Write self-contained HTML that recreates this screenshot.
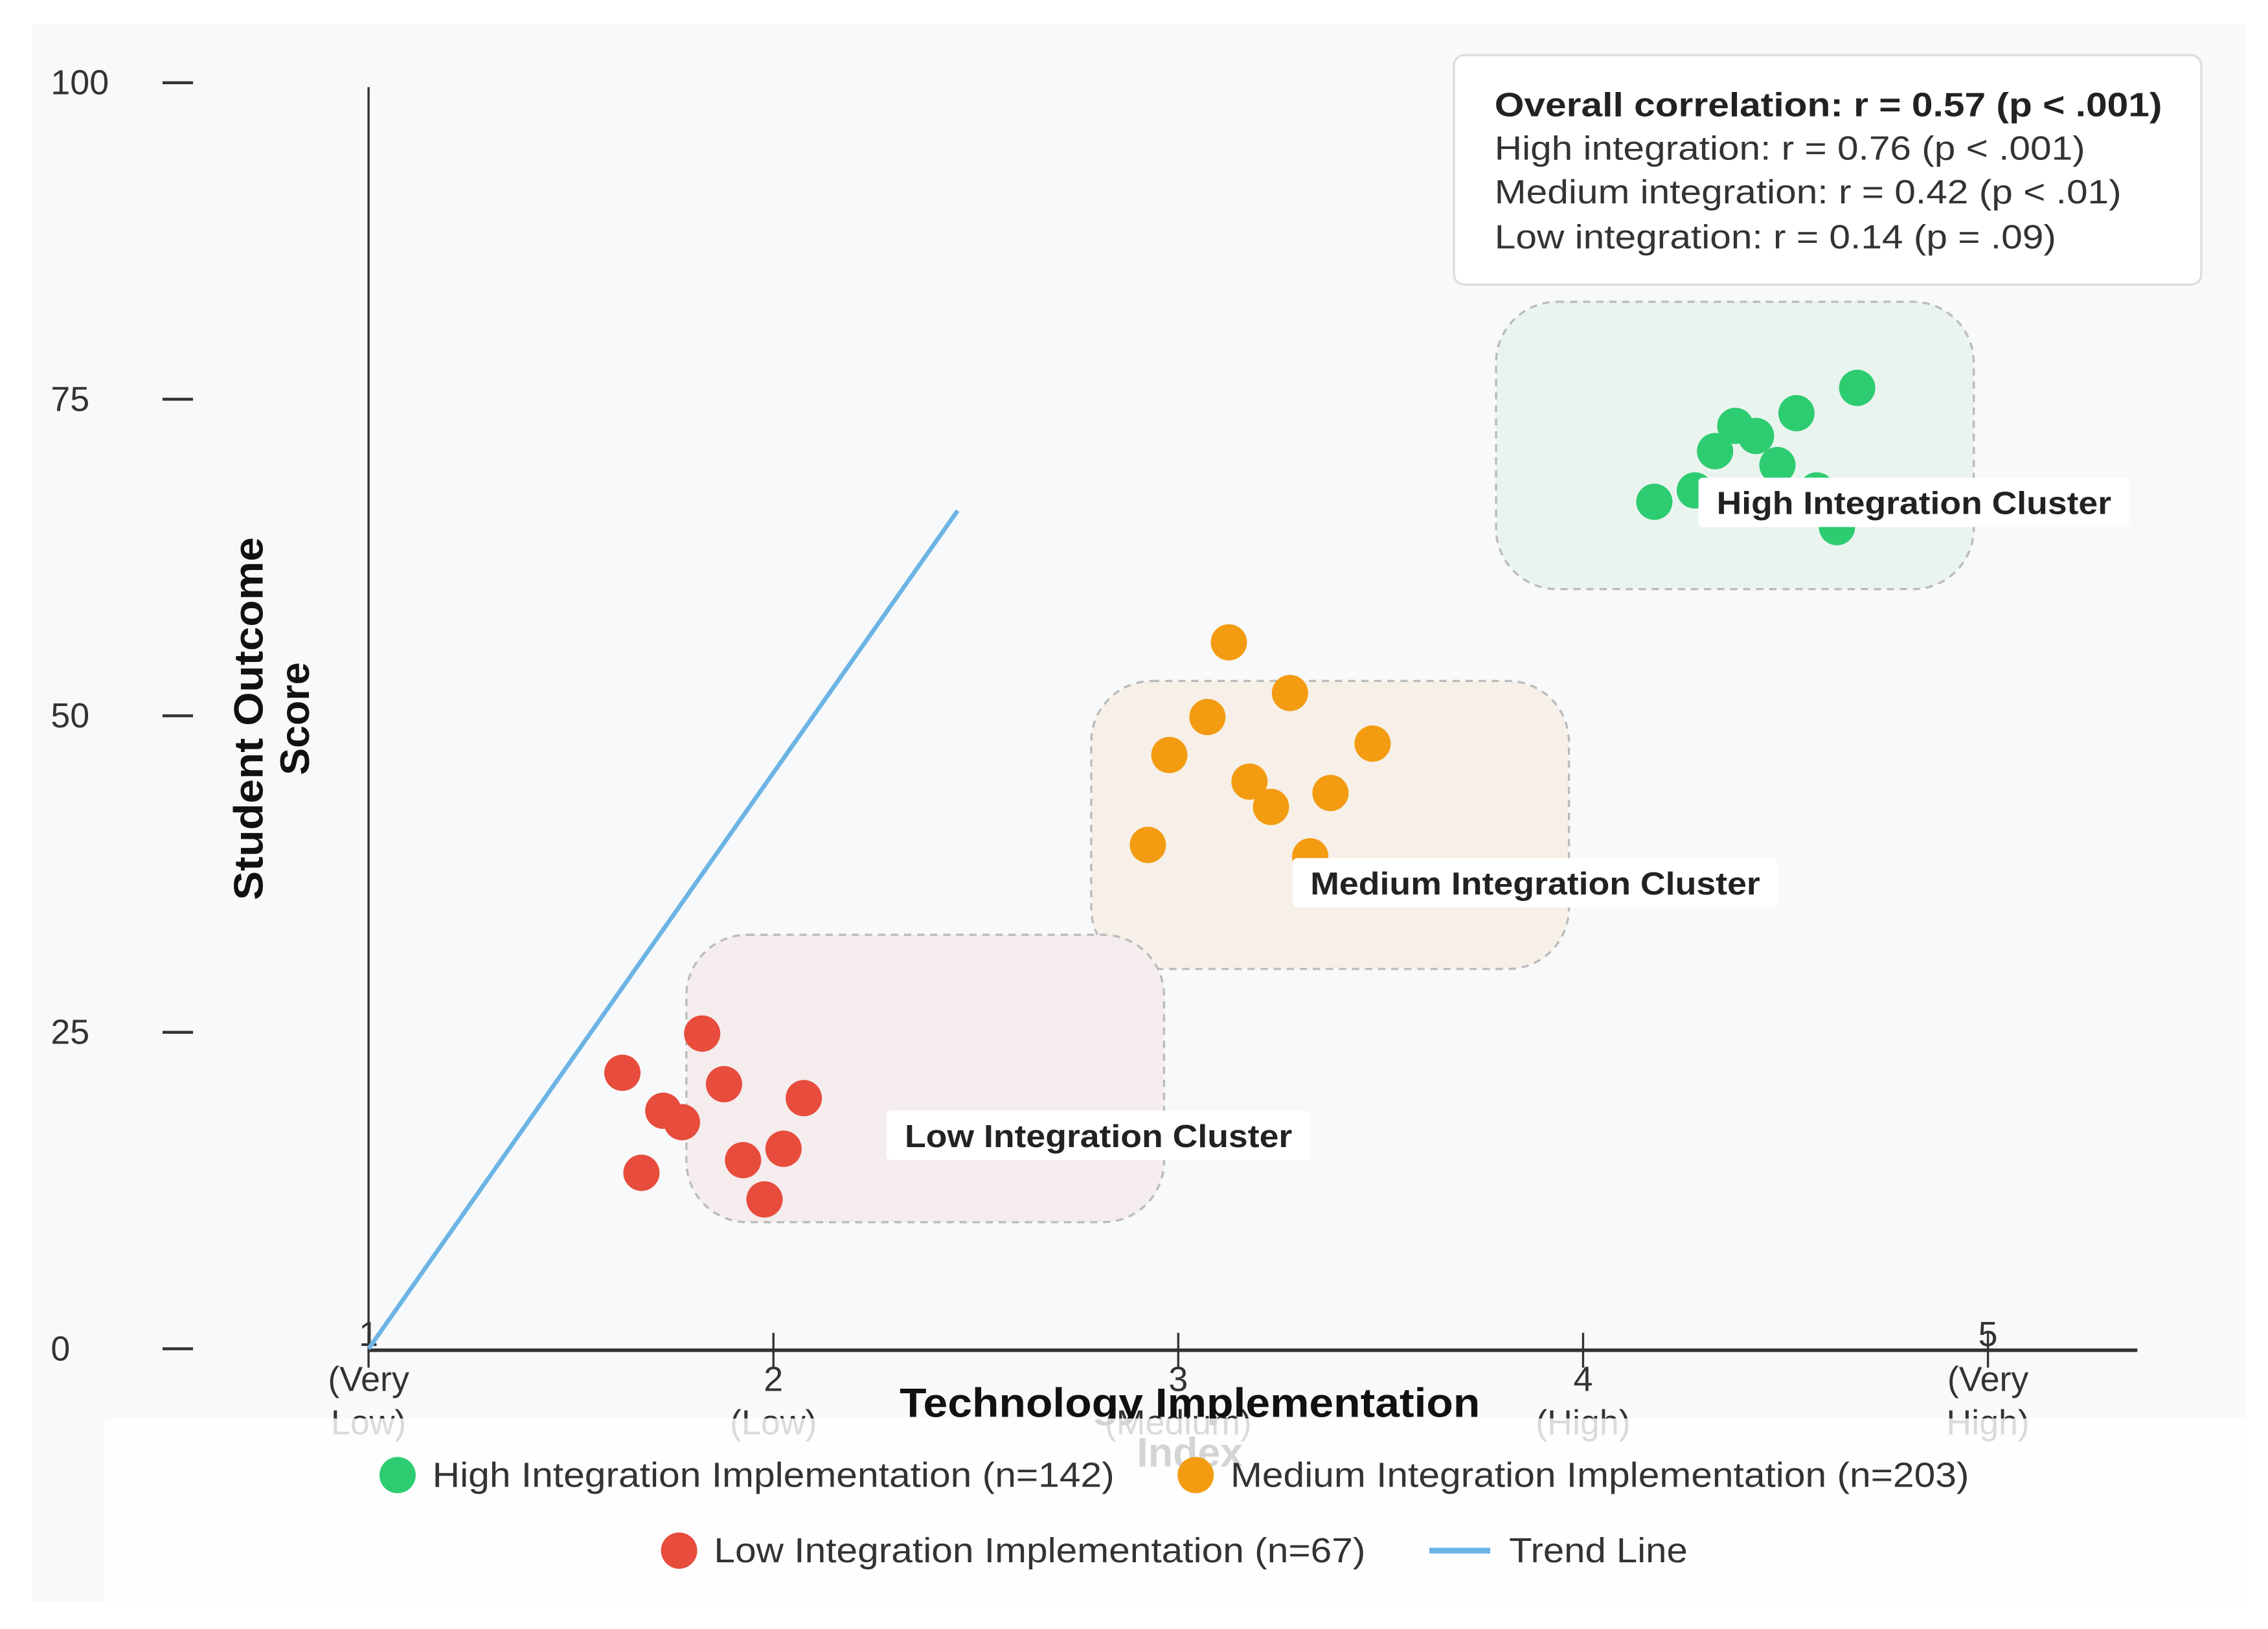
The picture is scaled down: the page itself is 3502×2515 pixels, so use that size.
<!DOCTYPE html>
<html><head><meta charset="utf-8"><style>
html,body{margin:0;padding:0;background:#fff}
svg{display:block}
text{font-family:"Liberation Sans",sans-serif}
</style></head><body>
<svg id="chart" width="3502" height="2515" viewBox="0 0 1563 1122" preserveAspectRatio="none" xmlns="http://www.w3.org/2000/svg">
<rect x="22" y="17" width="1526" height="1087" fill="#f8f9fb"/>
<g id="clusters"></g>
<g id="axes"></g>
<g id="trend"></g>
<g id="points"></g>
<g id="labels"></g>
<g>
<rect x="1002" y="38" width="515" height="158" rx="7" fill="#fff" stroke="#dddddd" stroke-width="1.5"/>
<text x="1030" y="80" font-size="23" font-weight="bold" fill="#222" textLength="460" lengthAdjust="spacingAndGlyphs">Overall correlation: r = 0.57 (p &lt; .001)</text>
<text x="1030" y="110" font-size="23" fill="#333" textLength="407" lengthAdjust="spacingAndGlyphs">High integration: r = 0.76 (p &lt; .001)</text>
<text x="1030" y="140" font-size="23" fill="#333" textLength="432" lengthAdjust="spacingAndGlyphs">Medium integration: r = 0.42 (p &lt; .01)</text>
<text x="1030" y="171" font-size="23" fill="#333" textLength="387" lengthAdjust="spacingAndGlyphs">Low integration: r = 0.14 (p = .09)</text>
</g>
<g id="legend">
<rect x="72" y="977" width="1476" height="127" fill="#ffffff" fill-opacity="0.82"/>
<g><circle cx="274" cy="1016" r="12.5" fill="#2ecc71"/><text x="298" y="1024" font-size="24" fill="#333" textLength="470" lengthAdjust="spacingAndGlyphs">High Integration Implementation (n=142)</text></g>
<g><circle cx="824" cy="1016" r="12.5" fill="#f39c12"/><text x="848" y="1024" font-size="24" fill="#333" textLength="509" lengthAdjust="spacingAndGlyphs">Medium Integration Implementation (n=203)</text></g>
<g><circle cx="468" cy="1068" r="12.5" fill="#e74c3c"/><text x="492" y="1076" font-size="24" fill="#333" textLength="449" lengthAdjust="spacingAndGlyphs">Low Integration Implementation (n=67)</text></g>
<g><line x1="985" y1="1068" x2="1027" y2="1068" stroke="#6cb4e4" stroke-width="4"/><text x="1040" y="1076" font-size="24" fill="#333" textLength="123" lengthAdjust="spacingAndGlyphs">Trend Line</text></g>
</g>
</svg>
<script>
const highX=[4.176,4.276,4.326,4.376,4.427,4.48,4.527,4.577,4.627,4.677];
const highY=[66.9,67.8,70.9,72.9,72.1,69.8,73.9,67.8,64.9,75.9];
const medX=[2.925,2.978,3.072,3.125,3.176,3.229,3.276,3.326,3.376,3.48];
const medY=[39.8,46.9,49.9,55.8,44.8,42.8,51.8,38.9,43.9,47.8];
const lowX=[1.627,1.674,1.728,1.774,1.824,1.878,1.925,1.978,2.025,2.075];
const lowY=[21.8,13.9,18.8,17.9,24.9,20.9,14.9,11.8,15.8,19.8];
const trendX=[1,2.455];
const trendY=[0,66.2];
const yTicks=[0,25,50,75,100];
const xTicks=[1,2,3,4,5];
const xTickNames=["(Very Low)","(Low)","(Medium)","(High)","(Very High)"];
const clusterNames=["High Integration Cluster","Medium Integration Cluster","Low Integration Cluster"];
const clusterX0=[3.785,2.785,1.785];
const clusterX1=[4.965,3.965,2.965];
const clusterY0=[60.0,30.0,10.0];
const clusterY1=[82.7,52.75,32.7];

const NS="http://www.w3.org/2000/svg";
const sx=v=>254+(v-1)*279;
const sy=v=>929-v*8.72;
function mk(tag,attrs,parent,txt){const e=document.createElementNS(NS,tag);for(const k in attrs)e.setAttribute(k,attrs[k]);if(txt!==undefined)e.textContent=txt;parent.appendChild(e);return e;}

const cl=document.getElementById('clusters');
const fills=["#eaf4ef","#f6f0e8","#f5eced"];
const lab=document.getElementById('labels');
for(let i=0;i<3;i++){
  const r=mk('rect',{x:sx(clusterX0[i]),y:sy(clusterY1[i]),width:sx(clusterX1[i])-sx(clusterX0[i]),height:sy(clusterY0[i])-sy(clusterY1[i]),rx:42,fill:fills[i],stroke:"#bbbbbb","stroke-width":1.5,"stroke-dasharray":"5,4"},cl);
  
  
}
const labCx=[1319,1058,757];
const labCy=[346,608,782];
const labW=[297,334,292];
const labTW=[272,310,267];
for(let i=0;i<3;i++){
  const g=mk('g',{},lab);
  
  
  mk('rect',{x:labCx[i]-labW[i]/2,y:labCy[i]-17,width:labW[i],height:34,rx:3,fill:"#fff"},g);
  mk('text',{x:labCx[i]-labTW[i]/2,y:labCy[i]+8,"font-size":22,"font-weight":"bold",fill:"#222",textLength:labTW[i],lengthAdjust:"spacingAndGlyphs"},g,clusterNames[i]);
}

const ax=document.getElementById('axes');
let e=mk('line',{x1:254,y1:60,x2:254,y2:930,stroke:"#333","stroke-width":1.5},ax);


e=mk('line',{x1:254,y1:930,x2:1473,y2:930,stroke:"#333","stroke-width":2.5},ax);


yTicks.forEach(v=>{
  mk('line',{x1:112,x2:133,y1:sy(v),y2:sy(v),stroke:"#333","stroke-width":2},ax);
  const t=mk('text',{x:35,y:sy(v)+8,"font-size":24,fill:"#333"},ax,String(v));
  
  
});
xTicks.forEach((v,i)=>{
  const x=sx(v);
  mk('line',{x1:x,x2:x,y1:918,y2:942,stroke:"#333","stroke-width":1.5},ax);
  const g=mk('g',{},ax);
  
  
  const parts=xTickNames[i].split(' ');
  if(parts.length>1){
    mk('text',{x:x,y:927,"text-anchor":"middle","font-size":24,fill:"#333"},g,String(v));
    mk('text',{x:x,y:958,"text-anchor":"middle","font-size":24,fill:"#333"},g,parts[0]);
    mk('text',{x:x,y:988,"text-anchor":"middle","font-size":24,fill:"#333"},g,parts[1]);
  }else{
    mk('text',{x:x,y:958,"text-anchor":"middle","font-size":24,fill:"#333"},g,String(v));
    mk('text',{x:x,y:988,"text-anchor":"middle","font-size":24,fill:"#333"},g,parts[0]);
  }
});
e=mk('text',{x:620,y:976,"font-size":28,"font-weight":"bold",fill:"#111",textLength:400,lengthAdjust:"spacingAndGlyphs"},ax,"Technology Implementation");


e=mk('text',{x:820,y:1010,"text-anchor":"middle","font-size":28,"font-weight":"bold",fill:"#111"},ax,"Index");


const yt=mk('g',{transform:"translate(185,495) rotate(-90)"},ax);


mk('text',{x:-125,y:-4,"font-size":28,"font-weight":"bold",fill:"#111",textLength:250,lengthAdjust:"spacingAndGlyphs"},yt,"Student Outcome");
mk('text',{x:0,y:28,"text-anchor":"middle","font-size":28,"font-weight":"bold",fill:"#111"},yt,"Score");

const tr=document.getElementById('trend');
e=mk('line',{x1:sx(trendX[0]),y1:sy(trendY[0]),x2:sx(trendX[1]),y2:sy(trendY[1]),stroke:"#6cb4e4","stroke-width":3},tr);



const pts=document.getElementById('points');
function series(xs,ys,color,name){
  xs.forEach((x,i)=>{
    const c=mk('circle',{cx:sx(x),cy:sy(ys[i]),r:12.5,fill:color},pts);
    
    
  });
}
series(highX,highY,"#2ecc71","high");
series(medX,medY,"#f39c12","medium");
series(lowX,lowY,"#e74c3c","low");
</script>
</body></html>
